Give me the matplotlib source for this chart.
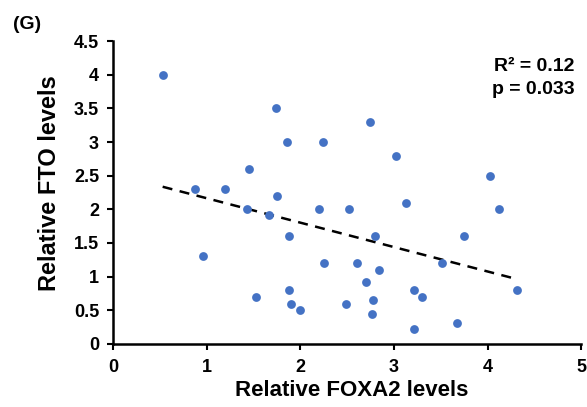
import numpy as np
import matplotlib
matplotlib.use('Agg')
import matplotlib.pyplot as plt
from matplotlib import rcParams

rcParams['font.family'] = ['Liberation Sans', 'DejaVu Sans']
rcParams['font.weight'] = 'bold'

# Relative FOXA2 vs FTO levels
foxa2 = [0.53, 1.74, 1.86, 2.24, 1.45, 0.87, 1.20, 1.75, 1.43, 1.67, 1.88, 0.96, 2.20,
         2.52, 3.13, 4.12, 2.80, 3.75, 2.60, 2.84, 3.51, 2.70, 4.31, 3.21, 3.30, 2.77,
         2.49, 2.76, 3.21, 3.67, 1.88, 1.53, 1.90, 2.00, 2.25, 2.74, 3.02, 4.02]
fto = [4.00, 3.51, 3.00, 3.00, 2.60, 2.30, 2.30, 2.20, 2.00, 1.91, 1.60, 1.30, 2.00,
       2.00, 2.10, 2.00, 1.60, 1.60, 1.20, 1.10, 1.20, 0.92, 0.80, 0.80, 0.70, 0.65,
       0.60, 0.45, 0.22, 0.31, 0.80, 0.70, 0.60, 0.50, 1.20, 3.30, 2.80, 2.50]
x_ticks = [0, 1, 2, 3, 4, 5]
y_ticks = [0, 0.5, 1, 1.5, 2, 2.5, 3, 3.5, 4, 4.5]

x = np.array(foxa2)
y = np.array(fto)
slope, intercept = np.polyfit(x, y, 1)
xl = np.array([x.min(), x.max()])

fig = plt.figure(figsize=(5.87, 4.07), dpi=100)
ax = fig.add_axes([0.1925, 0.155, 0.798, 0.744])
ax.scatter(x, y, s=40, color='#4472C4', zorder=3, linewidths=0)
ax.plot(xl, slope * xl + intercept, color='black', linestyle=(0, (4, 3)), linewidth=1.8)

ax.set_xlim(0, 5)
ax.set_ylim(0, 4.5)
ax.set_xticks(x_ticks)
ax.set_yticks(y_ticks)
ax.set_xticklabels([f'{t:g}' for t in x_ticks], fontsize=13)
ax.set_yticklabels([f'{t:g}' for t in y_ticks], fontsize=13)
for s in ['top', 'right']:
    ax.spines[s].set_visible(False)
for s in ['left', 'bottom']:
    ax.spines[s].set_linewidth(1.8)
ax.tick_params(width=1.5, length=4)
ax.tick_params(axis='x', pad=7)
ax.tick_params(axis='y', pad=6)
ax.set_xlabel('Relative FOXA2 levels', fontsize=16, fontweight='bold', labelpad=1)
ax.set_ylabel('Relative FTO levels', fontsize=17, fontweight='bold', labelpad=6)
ax.yaxis.set_label_coords(-0.11, 0.53)
ax.xaxis.set_label_coords(0.51, -0.12)

ax.text(0.985, 0.945, 'R² = 0.12\np = 0.033', transform=ax.transAxes, ha='right', va='top',
        fontsize=14, fontweight='bold', linespacing=1.5)
fig.text(0.022, 0.96, '(G)', fontsize=14, fontweight='bold', va='top')

plt.savefig('out.png', dpi=100)
